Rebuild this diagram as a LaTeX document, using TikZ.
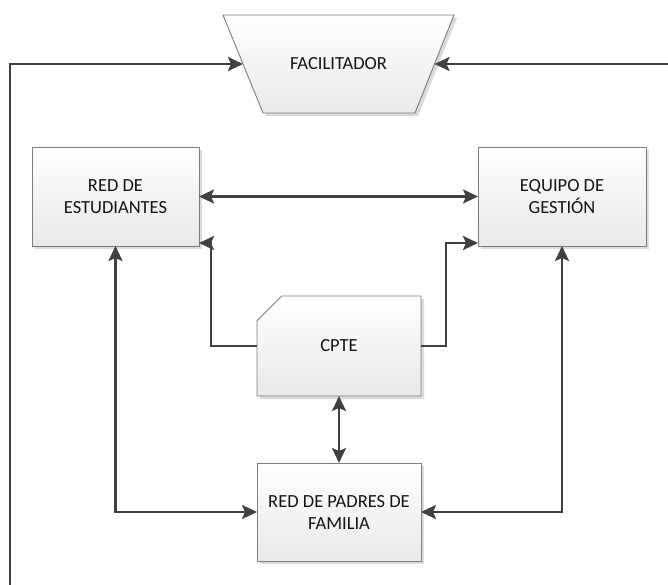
\documentclass[tikz,border=0pt]{standalone}
\usepackage{fontspec}
\setmainfont{Carlito}
\usetikzlibrary{shapes.misc,shadows,arrows.meta}
\definecolor{boxline}{RGB}{125,125,125}
\definecolor{linkcol}{RGB}{64,64,64}
\definecolor{boxbot}{RGB}{233,233,233}
\definecolor{txt}{RGB}{20,20,20}
\begin{document}
\begin{tikzpicture}[x=1pt,y=-1pt,
  boxfill/.style={draw=boxline, line width=0.9pt, top color=white, bottom color=boxbot,
    drop shadow={shadow xshift=3pt, shadow yshift=-3pt, fill=black!14, opacity=1}},
  boxbase/.style={boxfill, inner sep=0pt, outer sep=0pt, align=center, text=txt,
    font=\fontsize{18.5}{22}\selectfont},
  box/.style={boxbase, rectangle},
  label/.style={inner sep=0pt, align=center, text=txt, font=\fontsize{18.5}{22}\selectfont},
  tip/.tip={Stealth[length=15pt,width=14pt,inset=3pt]},
  link/.style={draw=linkcol, line width=2.4pt, tip-tip},
  onelink/.style={draw=linkcol, line width=2.4pt, -tip}
]
\useasboundingbox (0,0) rectangle (668,585);

% facilitator trapezoid
\path[boxfill] (223,15) -- (454,15) -- (415,113) -- (263,113) -- cycle;
\node[label] (fac) at (338.5,64) {FACILITADOR};
\coordinate (facL) at (243,64);
\coordinate (facR) at (434.5,64);

\node[box, minimum width=167pt, minimum height=99pt] (est) at (115.5,196.5) {RED DE\\ESTUDIANTES};
\node[box, minimum width=168pt, minimum height=99pt] (eq) at (562,196.5) {EQUIPO DE\\GESTIÓN};
\node[boxbase, chamfered rectangle, chamfered rectangle corners=north west,
  chamfered rectangle xsep=38pt, chamfered rectangle ysep=39pt,
  minimum width=164pt, minimum height=100pt] (cpte) at (339,346) {CPTE};
\node[box, minimum width=164pt, minimum height=98pt] (pad) at (339,512) {RED DE PADRES DE\\FAMILIA};

\coordinate (lb) at (10,585);
\coordinate (rt) at (668,64);

\draw[onelink] (lb) |- (facL);
\draw[onelink] (rt) -- (facR);
\draw[link] (est.east) -- (eq.west);
\draw[onelink] (cpte.west) -- ++(-46,0) |- ([yshift=3pt]est.south east);
\draw[onelink] (cpte.east) -- ++(25,0) |- ([yshift=3pt]eq.south west);
\draw[link] (cpte.south) -- (pad.north);
\draw[link] (est.south) |- (pad.west);
\draw[link] (eq.south) |- (pad.east);
\end{tikzpicture}
\end{document}
